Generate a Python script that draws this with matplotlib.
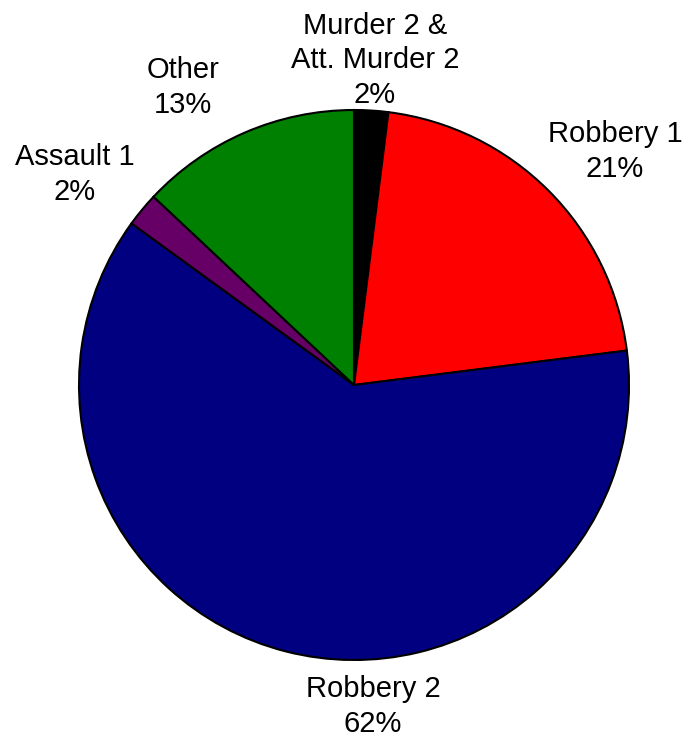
import matplotlib.pyplot as plt

plt.rcParams['font.family'] = ['Liberation Sans', 'DejaVu Sans']

# share of cases by top charge, clockwise from 12 o'clock
categories = ['Murder 2 &\nAtt. Murder 2', 'Robbery 1', 'Robbery 2', 'Assault 1', 'Other']
shares = [2, 21, 62, 2, 13]
colors = ['#000000', '#ff0000', '#000080', '#660066', '#008000']
# where each label sits (data units, pie radius = 1)
label_xy = [(0.076, 1.18), (0.949, 0.85), (0.069, -1.17), (-1.015, 0.766), (-0.622, 1.082)]

fig = plt.figure(figsize=(6.91, 7.5), dpi=100)
ax = fig.add_axes([0, 0, 1, 1])

ax.pie(shares, colors=colors, startangle=90, counterclock=False, radius=1,
       wedgeprops=dict(edgecolor='black', linewidth=1.5))

for name, val, (x, y) in zip(categories, shares, label_xy):
    ax.text(x, y, f'{name}\n{val}%', ha='center', va='center',
            fontsize=21, linespacing=1.3)

ax.set_xlim(-354 / 275, (691 - 354) / 275)
ax.set_ylim(-365 / 275, 385 / 275)
ax.set_aspect('equal')
ax.axis('off')

fig.savefig('out.png', dpi=100)
